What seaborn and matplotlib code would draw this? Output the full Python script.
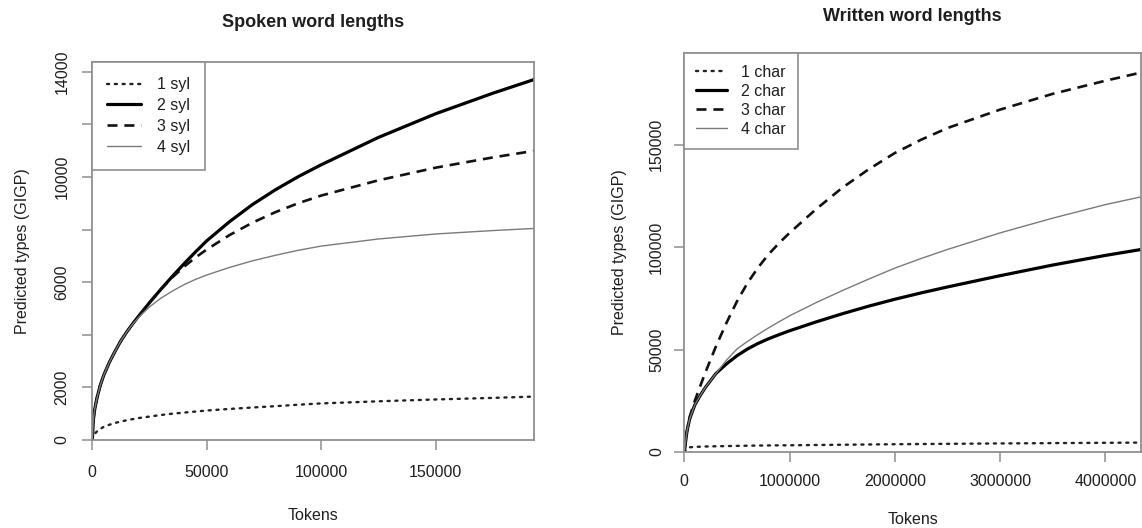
import matplotlib
matplotlib.use("Agg")
import matplotlib.pyplot as plt
import seaborn as sns
import pandas as pd

# ── Data ────────────────────────────────────────────────────────────────────
spoken_tokens = [0, 500, 1000, 2000, 3500, 5000, 7500, 10000, 12500, 15000, 17500,
                 20000, 25000, 30000, 35000, 40000, 45000, 50000, 60000, 70000,
                 80000, 90000, 100000, 125000, 150000, 175000, 193000]
spoken_1syl = [0, 150, 230, 320, 420, 500, 580, 650, 700, 750, 790,
               830, 890, 950, 1000, 1040, 1080, 1120, 1180, 1235,
               1285, 1340, 1390, 1470, 1540, 1600, 1650]
spoken_2syl = [0, 780, 1130, 1580, 2080, 2460, 2960, 3380, 3770, 4100, 4400,
               4680, 5220, 5730, 6220, 6690, 7140, 7570, 8300, 8950,
               9510, 10010, 10460, 11500, 12400, 13180, 13700]
spoken_3syl = [0, 780, 1130, 1580, 2080, 2460, 2960, 3380, 3770, 4100, 4400,
               4680, 5220, 5730, 6180, 6580, 6930, 7240, 7790, 8260,
               8660, 9000, 9290, 9870, 10350, 10740, 10990]
spoken_4syl = [0, 780, 1130, 1580, 2080, 2460, 2960, 3380, 3770, 4100, 4390,
               4640, 5060, 5390, 5660, 5900, 6100, 6270, 6560, 6810,
               7020, 7210, 7370, 7640, 7830, 7960, 8040]

written_tokens = [0, 25000, 50000, 100000, 150000, 200000, 300000, 400000, 500000,
                  600000, 700000, 800000, 900000, 1000000, 1250000, 1500000,
                  1750000, 2000000, 2250000, 2500000, 3000000, 3500000, 4000000, 4340000]
written_1char = [0, 1800, 2300, 2500, 2600, 2700, 2800, 2900, 3000,
                 3080, 3150, 3220, 3260, 3300, 3430, 3550,
                 3680, 3800, 3900, 4000, 4200, 4350, 4500, 4600]
written_2char = [0, 10000, 16000, 23000, 27500, 31500, 38300, 43000, 47000,
                 50300, 53000, 55300, 57300, 59200, 63500, 67500,
                 71200, 74600, 77700, 80600, 86100, 91300, 96000, 98900]
written_3char = [0, 10000, 17000, 25000, 32000, 38800, 51500, 63000, 73500,
                 82500, 90000, 96500, 102000, 107000, 118500, 129000,
                 138000, 146000, 152500, 158200, 167200, 174900, 181300, 185300]
written_4char = [0, 10000, 16000, 23000, 27500, 31500, 38300, 44800, 50300,
                 54000, 57400, 60600, 63600, 66500, 72900, 78800,
                 84400, 89800, 94500, 98900, 107000, 114200, 120800, 124600]

spoken_labels = ["1 syl", "2 syl", "3 syl", "4 syl"]
written_labels = ["1 char", "2 char", "3 char", "4 char"]

spoken_yticks = [0, 2000, 4000, 6000, 8000, 10000, 12000, 14000]
spoken_yticklabels = ["0", "2000", "", "6000", "", "10000", "", "14000"]
spoken_xticks = [0, 50000, 100000, 150000]
written_yticks = [0, 50000, 100000, 150000]
written_xticks = [0, 1000000, 2000000, 3000000, 4000000]

# ── Style ───────────────────────────────────────────────────────────────────
sns.set_theme(style="white")
plt.rcParams["font.family"] = ["Liberation Sans", "DejaVu Sans"]
FRAME = "#8f8f8f"
TEXT = "#1e1e1e"
GREY_LINE = "#7a7a7a"

styles = [
    dict(color="#222222", lw=1.7, linestyle=(0, (0.9, 2.4)), dash_capstyle="round"),
    dict(color="#000000", lw=2.3, linestyle="-"),
    dict(color="#111111", lw=1.9, linestyle=(0, (3.8, 2.6))),
    dict(color=GREY_LINE, lw=1.0, linestyle="-"),
]

fig = plt.figure(figsize=(11.42, 5.28), dpi=100)
ax1 = fig.add_axes([0.0808, 0.1667, 0.3868, 0.7160])
ax2 = fig.add_axes([0.5992, 0.1439, 0.4000, 0.7563])


def style_axes(ax, xpad, ypad):
    for sp in ax.spines.values():
        sp.set_color(FRAME)
        sp.set_linewidth(1.3)
        sp.set_visible(True)
    ax.tick_params(axis="both", direction="out", length=7.5, width=1.1,
                   color=FRAME, labelcolor=TEXT, labelsize=11.5,
                   bottom=True, left=True, top=False, right=False)
    ax.tick_params(axis="x", pad=xpad)
    ax.tick_params(axis="y", pad=ypad)
    for lab in ax.get_yticklabels():
        lab.set_rotation(90)
        lab.set_va("center")
    ax.grid(False)


def style_legend(ax, **kw):
    leg = ax.legend(loc="upper left", borderaxespad=0, fancybox=False, framealpha=1,
                    edgecolor=FRAME, fontsize=11.5, **kw)
    leg.get_frame().set_linewidth(1.2)
    for t in leg.get_texts():
        t.set_color(TEXT)
    return leg


# ── Spoken ──────────────────────────────────────────────────────────────────
spoken = pd.DataFrame({"Tokens": spoken_tokens, "1 syl": spoken_1syl,
                       "2 syl": spoken_2syl, "3 syl": spoken_3syl, "4 syl": spoken_4syl})
for lab, st in zip(spoken_labels, styles):
    sns.lineplot(data=spoken, x="Tokens", y=lab, ax=ax1, label=lab, **st)
ax1.set_xlim(0, 193000)
ax1.set_ylim(0, 14370)
ax1.set_xticks(spoken_xticks)
ax1.set_xticklabels([str(v) for v in spoken_xticks])
ax1.set_yticks(spoken_yticks)
ax1.set_yticklabels(spoken_yticklabels)
ax1.set_xlabel("Tokens", fontsize=11.5, color=TEXT)
ax1.set_ylabel("Predicted types (GIGP)", fontsize=11.5, color=TEXT)
ax1.xaxis.set_label_coords(0.5, -0.18)
ax1.yaxis.set_label_coords(-0.14, 0.5)
ax1.set_title("Spoken word lengths", fontsize=13, fontweight="bold", color=TEXT, pad=25.5)
style_axes(ax1, xpad=10.2, ypad=9)
style_legend(ax1, handlelength=2.1, handletextpad=1.0, labelspacing=0.37, borderpad=0.95)

# ── Written ─────────────────────────────────────────────────────────────────
written = pd.DataFrame({"Tokens": written_tokens, "1 char": written_1char,
                        "2 char": written_2char, "3 char": written_3char,
                        "4 char": written_4char})
for lab, st in zip(written_labels, styles):
    sns.lineplot(data=written, x="Tokens", y=lab, ax=ax2, label=lab, **st)
ax2.set_xlim(0, 4340000)
ax2.set_ylim(0, 195000)
ax2.set_xticks(written_xticks)
ax2.set_xticklabels([str(v) for v in written_xticks])
ax2.set_yticks(written_yticks)
ax2.set_yticklabels([str(v) for v in written_yticks])
ax2.set_xlabel("Tokens", fontsize=11.5, color=TEXT)
ax2.set_ylabel("Predicted types (GIGP)", fontsize=11.5, color=TEXT)
ax2.xaxis.set_label_coords(0.5, -0.15)
ax2.yaxis.set_label_coords(-0.125, 0.5)
ax2.set_title("Written word lengths", fontsize=13, fontweight="bold", color=TEXT, pad=22.5)
style_axes(ax2, xpad=8, ypad=7)
style_legend(ax2, handlelength=1.9, handletextpad=0.9, labelspacing=0.25, borderpad=0.75)

fig.savefig("out.png", dpi=100, facecolor="white")
